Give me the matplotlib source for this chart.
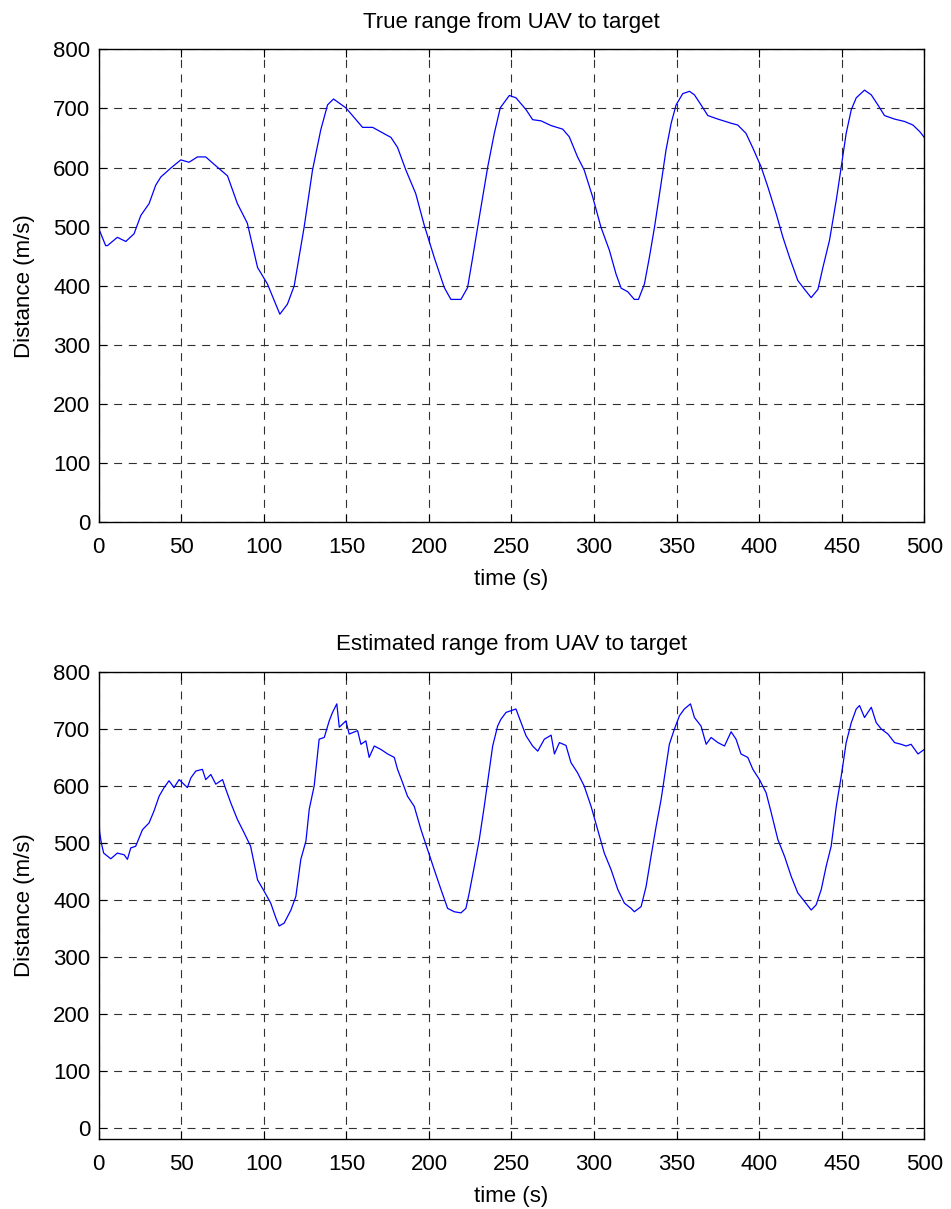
import matplotlib
matplotlib.use("Agg")
import matplotlib.pyplot as plt

plt.rcParams['font.family'] = ['Liberation Sans', 'DejaVu Sans']
plt.rcParams['font.size'] = 16

# true range
t_true = [0, 4.2, 5.3, 11.3, 16.4, 21.4, 25.5, 30.5, 34.5, 37.6, 43.6, 49.7, 54.7, 59.8, 64.8,
          70.9, 78, 84, 90, 96.2, 102.2, 109.7, 114.3, 118.4, 124.4, 129.5, 134.5, 138.6, 142.2,
          149.7, 159.8, 165.9, 177, 181, 186, 192, 197.2, 203.2, 209.3, 213.3, 219.4, 223.4,
          226.5, 230.5, 235.6, 239.6, 243.2, 248.7, 252.7, 258.8, 262.8, 267.9, 274, 281, 285,
          290, 294, 299.2, 304.2, 309.3, 313.3, 316.4, 320.4, 324.4, 326.9, 330.5, 333.5, 336.6,
          340.6, 343.6, 346.7, 349.7, 353.7, 357.8, 360.8, 364.8, 368.9, 375, 383, 387, 392,
          396.2, 401.2, 405.3, 410.3, 414.4, 418.4, 423.4, 427.5, 431.5, 435.6, 438.6, 442.6,
          446.7, 449.7, 452.7, 455.8, 458.8, 463.8, 467.9, 471.9, 475.9, 482, 488, 493.1, 497.2,
          500]
r_true = [497, 468, 468, 482, 475, 488, 519, 539, 570, 584, 599, 613, 609, 618, 618,
          603, 586, 539, 506, 431, 403, 352, 369, 400, 499, 596, 664, 706, 716,
          701, 668, 668, 651, 634, 596, 556, 502, 448, 397, 377, 377, 397,
          448, 516, 601, 658, 701, 722, 718, 698, 681, 679, 671, 665, 652,
          618, 596, 550, 499, 460, 420, 396, 390, 377, 377, 403, 448, 499,
          573, 630, 675, 706, 725, 729, 723, 706, 688, 682, 675, 672, 658,
          633, 601, 567, 522, 482, 448, 409, 394, 380, 394, 431, 477,
          545, 601, 658, 698, 718, 731, 723, 706, 688, 682, 678, 672, 661,
          651]

# estimated range
t_est = [0, 0.5, 1.5, 3, 7.3, 11.3, 15.4, 17.4, 19.4, 22.4, 26.5, 30.5, 33.5, 36.6, 39.6,
         42.6, 45.6, 48.7, 53.7, 55.8, 58.8, 62.8, 64.8, 67.9, 70.9, 75, 77, 80, 84, 88, 92,
         96.2, 100.2, 104.2, 107.3, 109.3, 112.3, 116.4, 119.4, 122.4, 125.5, 127.5, 130.5,
         133.5, 136.6, 139.6, 141.6, 144.2, 145.7, 149.7, 151.7, 156.8, 158.8, 161.8, 163.8,
         166.9, 170.9, 175, 179, 181, 184, 187, 191.1, 195.2, 199.2, 203.2, 207.3, 211.3,
         215.3, 219.4, 222.4, 224.4, 227.5, 230.5, 233.5, 236.6, 238.6, 241.6, 243.6, 246.7,
         249.7, 252.7, 255.8, 258.8, 262.8, 265.9, 269.9, 274, 276, 279, 283, 286, 290, 294,
         298.2, 302.2, 306.2, 310.3, 314.4, 318.4, 322.4, 324.4, 328.5, 331.5, 334.5, 337.6,
         340.6, 343.6, 345.6, 348.7, 351.7, 354.7, 358.4, 360.8, 364.8, 367.9, 370.9, 375,
         379, 383, 386, 389, 393.1, 396.2, 400.2, 404.2, 407.3, 411.3, 415.4, 419.4, 423.4,
         427.5, 431.5, 434.5, 437.6, 440.6, 443.6, 446.7, 449.7, 452.7, 455.8, 458.8, 460.8,
         463.8, 467.9, 470.9, 473.9, 478, 482, 486, 489, 492, 496.2, 500]
r_est = [560, 520, 501, 482, 472, 482, 479, 471, 491, 494, 523, 535, 556, 582, 597,
         609, 597, 611, 597, 614, 626, 629, 611, 620, 603, 611, 594, 570, 541, 518, 494,
         435, 415, 394, 368, 354, 359, 382, 406, 471, 503, 559, 600,
         682, 685, 714, 729, 744, 703, 714, 691, 697, 673, 679, 650,
         670, 664, 656, 650, 629, 606, 582, 564, 523, 488, 453, 418, 385,
         379, 377, 385, 412, 459, 506, 564, 629, 670, 705, 717, 729,
         732, 735, 711, 688, 670, 661, 682, 689, 656, 676, 671, 641, 623, 600,
         564, 523, 482, 453, 418, 394, 385, 379, 388, 423, 476, 529,
         576, 635, 673, 700, 723, 735, 744, 720, 705, 673, 685, 676,
         670, 695, 682, 656, 650, 629, 611, 588, 553, 506, 476, 441, 412,
         397, 382, 391, 418, 459, 494, 564, 617, 676, 711, 735, 741,
         720, 738, 711, 700, 691, 676, 673, 670, 673, 656, 664]

fig = plt.figure(figsize=(9.51, 12.09), dpi=100)
ax1 = fig.add_axes([0.1038, 0.5680, 0.8681, 0.3912])
ax2 = fig.add_axes([0.1038, 0.0579, 0.8681, 0.3863])

def style(ax, title, ymin):
    ax.set_xlim(0, 500)
    ax.set_ylim(ymin, 800)
    ax.set_xticks(range(0, 501, 50))
    ax.set_yticks(range(0, 801, 100))
    ax.grid(True, color='#303030', linestyle=(0, (7.2, 6)), linewidth=0.8)
    ax.tick_params(direction='in', length=6, top=True, right=True, labelsize=16)
    ax.tick_params(axis='x', pad=10.5)
    ax.tick_params(axis='y', pad=6)
    for s in ax.spines.values():
        s.set_linewidth(1.0)
    ax.set_title(title, fontsize=16, pad=15.5)
    ax.set_xlabel('time (s)', fontsize=16, labelpad=8)
    ax.set_ylabel('Distance (m/s)', fontsize=16, labelpad=13)

ax1.plot(t_true, r_true, color='blue', linewidth=0.9)
style(ax1, 'True range from UAV to target', 0)

ax2.plot(t_est, r_est, color='blue', linewidth=0.9)
style(ax2, 'Estimated range from UAV to target', -20)

fig.savefig('out.png', dpi=100)
